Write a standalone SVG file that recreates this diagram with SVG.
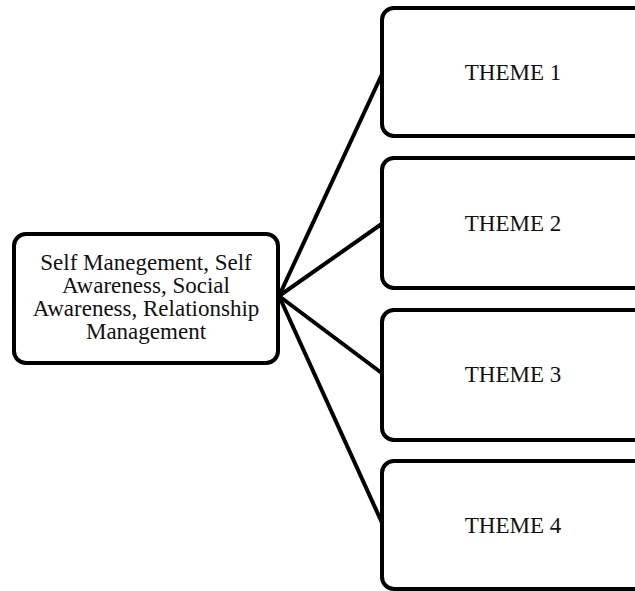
<svg xmlns="http://www.w3.org/2000/svg" width="635" height="591" viewBox="0 0 635 591">
<style>
.box{fill:#fff;stroke:#000;stroke-width:4}
.lbl{font-family:"Liberation Serif","DejaVu Serif",serif;font-size:23px;fill:#111;text-anchor:middle}
.con{stroke:#000;stroke-width:4;fill:none}
</style>
<rect width="635" height="591" fill="#fff"/>
<g id="connectors">
<line class="con" x1="279" y1="296" x2="383" y2="72"/>
<line class="con" x1="279" y1="296" x2="383" y2="223"/>
<line class="con" x1="279" y1="296" x2="383" y2="374"/>
<line class="con" x1="279" y1="296" x2="383" y2="525"/>
</g>
<g id="center">
<rect class="box" x="14" y="234" width="264" height="129" rx="12"/>
<text class="lbl" x="146" y="270">Self Manegement, Self</text>
<text class="lbl" x="146" y="293">Awareness, Social</text>
<text class="lbl" x="146" y="316">Awareness, Relationship</text>
<text class="lbl" x="146" y="339">Management</text>
</g>
<g id="theme1">
<rect class="box" x="382" y="8" width="270" height="128" rx="12"/>
<text class="lbl" x="513" y="80">THEME 1</text>
</g>
<g id="theme2">
<rect class="box" x="382" y="158" width="270" height="130" rx="12"/>
<text class="lbl" x="513" y="231">THEME 2</text>
</g>
<g id="theme3">
<rect class="box" x="382" y="310" width="270" height="130" rx="12"/>
<text class="lbl" x="513" y="382">THEME 3</text>
</g>
<g id="theme4">
<rect class="box" x="382" y="461" width="270" height="128" rx="12"/>
<text class="lbl" x="513" y="533">THEME 4</text>
</g>
</svg>
